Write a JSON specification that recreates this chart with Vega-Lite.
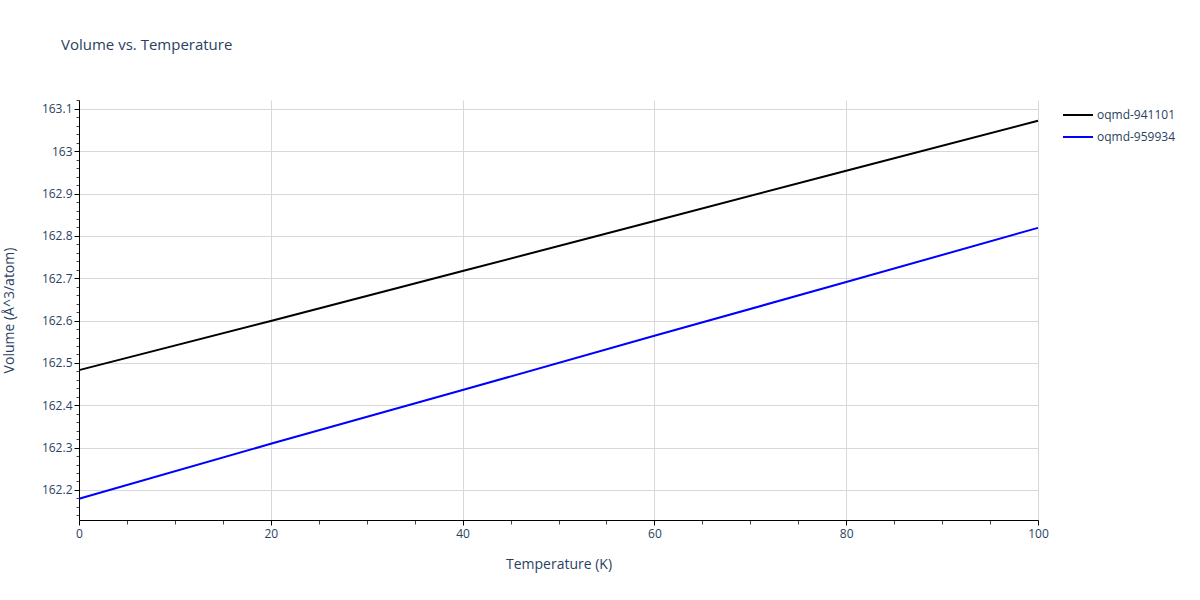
{
  "$schema": "https://vega.github.io/schema/vega-lite/v6.json",
  "width": 959,
  "height": 420,
  "autosize": {"type": "none"},
  "padding": {"left": 79, "top": 100, "right": 162, "bottom": 80},
  "background": "white",
  "title": {
    "text": "Volume vs. Temperature",
    "anchor": "start",
    "frame": "group",
    "dx": -18,
    "offset": 46,
    "font": "Open Sans",
    "fontSize": 15,
    "fontWeight": "normal",
    "color": "#2a3f5f"
  },
  "data": {
    "values": [
      {"T": 0, "V": 162.483, "id": "oqmd-941101"},
      {"T": 20, "V": 162.599, "id": "oqmd-941101"},
      {"T": 40, "V": 162.717, "id": "oqmd-941101"},
      {"T": 60, "V": 162.835, "id": "oqmd-941101"},
      {"T": 80, "V": 162.954, "id": "oqmd-941101"},
      {"T": 100, "V": 163.072, "id": "oqmd-941101"},
      {"T": 0, "V": 162.179, "id": "oqmd-959934"},
      {"T": 20, "V": 162.309, "id": "oqmd-959934"},
      {"T": 40, "V": 162.436, "id": "oqmd-959934"},
      {"T": 60, "V": 162.564, "id": "oqmd-959934"},
      {"T": 80, "V": 162.691, "id": "oqmd-959934"},
      {"T": 100, "V": 162.819, "id": "oqmd-959934"}
    ]
  },
  "layer": [
    {
      "mark": {"type": "line", "opacity": 0},
      "encoding": {
        "x": {
          "field": "T",
          "type": "quantitative",
          "scale": {"domain": [0, 100], "nice": false},
          "axis": {
            "orient": "bottom",
            "values": [5, 10, 15, 25, 30, 35, 45, 50, 55, 65, 70, 75, 85, 90, 95],
            "labels": false,
            "grid": false,
            "domain": false,
            "title": null,
            "tickSize": 4,
            "tickColor": "#444444"
          }
        },
        "y": {
          "field": "V",
          "type": "quantitative",
          "scale": {"domain": [162.129, 163.121], "nice": false, "zero": false},
          "axis": {
            "orient": "left",
            "values": [162.14, 162.16, 162.18, 162.22, 162.24, 162.26, 162.28, 162.32, 162.34, 162.36, 162.38, 162.42, 162.44, 162.46, 162.48, 162.52, 162.54, 162.56, 162.58, 162.62, 162.64, 162.66, 162.68, 162.72, 162.74, 162.76, 162.78, 162.82, 162.84, 162.86, 162.88, 162.92, 162.94, 162.96, 162.98, 163.02, 163.04, 163.06, 163.08, 163.12],
            "labels": false,
            "grid": false,
            "domain": false,
            "title": null,
            "tickSize": 3,
            "tickColor": "#444444"
          }
        }
      }
    },
    {
      "mark": {"type": "line", "strokeWidth": 2},
      "encoding": {
        "x": {
          "field": "T",
          "type": "quantitative",
          "title": "Temperature (K)",
          "axis": {
            "orient": "bottom",
            "values": [0, 20, 40, 60, 80, 100],
            "format": "d",
            "grid": true,
            "labelAngle": 0,
            "labelFlush": false,
            "labelPadding": 3,
            "tickSize": 5,
            "tickColor": "#000000",
            "domainColor": "#000000",
            "domainWidth": 1,
            "gridColor": "#d8d8d8",
            "titlePadding": 18
          }
        },
        "y": {
          "field": "V",
          "type": "quantitative",
          "title": "Volume (Å^3/atom)",
          "axis": {
            "orient": "left",
            "values": [162.2, 162.3, 162.4, 162.5, 162.6, 162.7, 162.8, 162.9, 163, 163.1],
            "format": "~f",
            "grid": true,
            "labelPadding": 2,
            "tickSize": 5,
            "tickColor": "#000000",
            "domainColor": "#000000",
            "domainWidth": 1,
            "gridColor": "#d8d8d8",
            "titlePadding": 25
          }
        },
        "color": {
          "field": "id",
          "type": "nominal",
          "scale": {"domain": ["oqmd-941101", "oqmd-959934"], "range": ["#000000", "#0000ff"]},
          "legend": {
            "orient": "none",
            "legendX": 983,
            "legendY": -1,
            "title": null,
            "symbolType": "stroke",
            "symbolSize": 900,
            "symbolStrokeWidth": 2,
            "labelOffset": 3,
            "rowPadding": -5
          }
        }
      }
    }
  ],
  "resolve": {"axis": {"x": "independent", "y": "independent"}},
  "config": {
    "view": {"stroke": null},
    "font": "Open Sans",
    "axis": {
      "labelFont": "Open Sans",
      "labelFontSize": 12,
      "labelColor": "#2a3f5f",
      "titleFont": "Open Sans",
      "titleFontSize": 14,
      "titleFontWeight": "normal",
      "titleColor": "#2a3f5f"
    },
    "legend": {
      "labelFont": "Open Sans",
      "labelFontSize": 12,
      "labelColor": "#2a3f5f"
    }
  }
}
